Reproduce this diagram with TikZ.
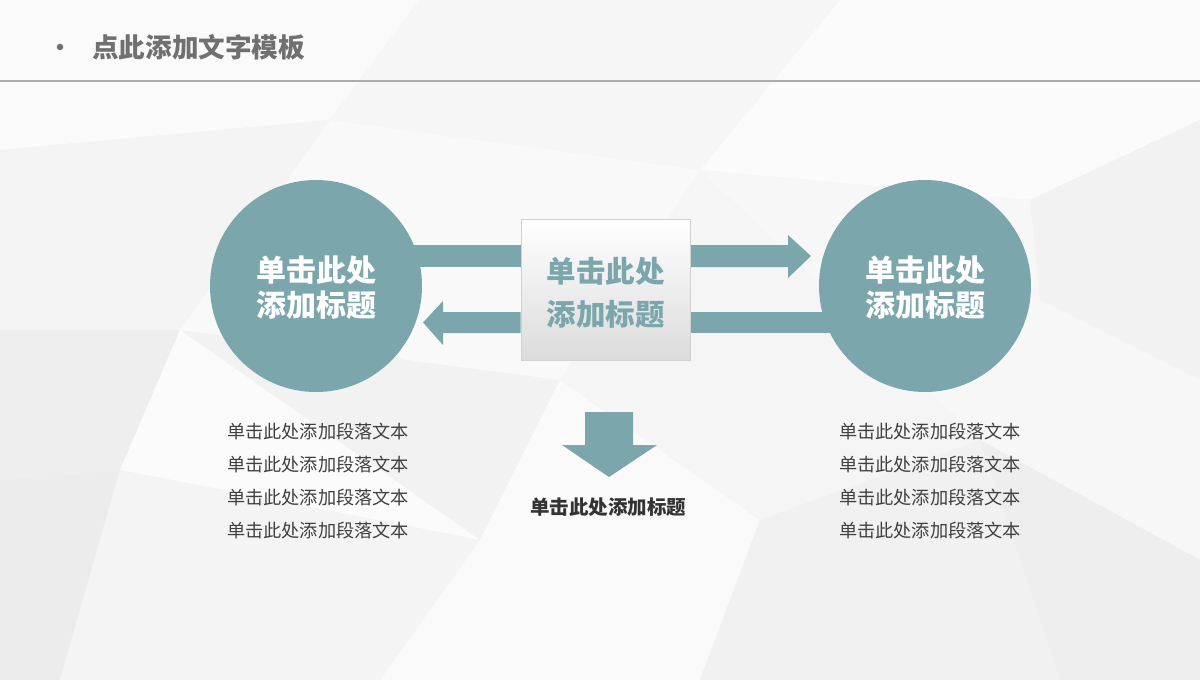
\documentclass[tikz,border=0pt]{standalone}
\usepackage{fontspec}
\setmainfont{Noto Sans CJK SC}
\usetikzlibrary{calc}
\definecolor{teal1}{RGB}{122,166,172}
\definecolor{titlegray}{RGB}{112,112,112}
\definecolor{txtdark}{RGB}{64,64,64}
\definecolor{bg0}{RGB}{242,242,242}
\tikzset{
  poly/.style={fill=#1, draw=none},
  circ/.style={circle, fill=teal1, minimum size=212pt, inner sep=0pt},
  circtext/.style={text=white, font=\fontsize{30}{35}\selectfont\bfseries, align=center},
  cbox/.style={rectangle, minimum width=169pt, minimum height=141pt, top color=white, bottom color=gray!28, draw=gray!35, line width=0.6pt},
  boxtext/.style={text=teal1, font=\fontsize{29.5}{43}\selectfont\bfseries, align=center},
  para/.style={text=txtdark, font=\fontsize{18.2}{33}\selectfont, align=center, inner sep=0pt},
  blk/.style={fill=teal1, draw=none}
}
\begin{document}
\begin{tikzpicture}[x=1pt,y=-1pt]
\useasboundingbox (0,0) rectangle (1200,680);
% background low-poly
\fill[bg0] (0,0) rectangle (1200,680);
\fill[poly=gray!4] (0,0) -- (420,0) -- (330,120) -- (0,150) -- cycle;
\fill[poly=gray!7] (420,0) -- (840,0) -- (700,170) -- (330,120) -- cycle;
\fill[poly=gray!3] (840,0) -- (1200,0) -- (1200,120) -- (1030,200) -- (700,170) -- cycle;
\fill[poly=gray!9] (0,150) -- (330,120) -- (180,330) -- (0,330) -- cycle;
\fill[poly=gray!5] (330,120) -- (700,170) -- (560,380) -- (180,330) -- cycle;
\fill[poly=gray!10] (1200,120) -- (1200,380) -- (1040,300) -- (1030,200) -- cycle;
\fill[poly=gray!6] (1030,200) -- (1040,300) -- (980,440) -- (700,170) -- cycle;
\fill[poly=gray!13] (0,330) -- (180,330) -- (120,470) -- (0,480) -- cycle;
\fill[poly=gray!15] (0,480) -- (120,470) -- (60,680) -- (0,680) -- cycle;
\fill[poly=gray!3] (180,330) -- (480,540) -- (120,470) -- cycle;
\fill[poly=gray!9] (120,470) -- (480,540) -- (380,680) -- (60,680) -- cycle;
\fill[poly=gray!4] (480,540) -- (560,380) -- (760,520) -- (700,680) -- (380,680) -- cycle;
\fill[poly=gray!8] (560,380) -- (700,170) -- (980,440) -- (760,520) -- cycle;
\fill[poly=gray!11] (760,520) -- (980,440) -- (1060,680) -- (700,680) -- cycle;
\fill[poly=gray!6] (980,440) -- (1040,300) -- (1200,380) -- (1200,560) -- cycle;
\fill[poly=gray!13] (980,440) -- (1200,560) -- (1200,680) -- (1060,680) -- cycle;
% title
\node[circle, fill=titlegray, inner sep=0pt, minimum size=6.5pt] (bul) at (60,47) {};
\node[text=titlegray, font=\fontsize{26.6}{30}\selectfont\bfseries, anchor=west, inner sep=0pt] (title) at (92,47) {点此添加文字模板};
\coordinate (hl) at (0,81);
\coordinate (hr) at (1200,81);
\draw[gray!65, line width=1.6pt] (hl) -- (hr);
% main nodes
\coordinate (lcc) at (316,286);
\coordinate (rcc) at (925,286);
\coordinate (bc) at (605.5,289.5);
% shafts (behind)
\path (bc) node[cbox, draw=none, shading=axis, top color=white, bottom color=white, opacity=0] (box) {};
\fill[blk] (lcc |- 0,245) rectangle (box.west |- 0,267);
\fill[blk] (box.east |- 0,312) rectangle (rcc |- 0,333);
% right arrow top
\fill[blk] (box.east |- 0,245) -- (788,245) -- (788,235) -- (811,256) -- (788,278) -- (788,267) -- (box.east |- 0,267) -- cycle;
% left arrow bottom
\fill[blk] (box.west |- 0,312) -- (443,312) -- (443,301) -- (423,322.5) -- (443,345) -- (443,333) -- (box.west |- 0,333) -- cycle;
% circles and box
\node[circ] (lc) at (lcc) {};
\node[circ] (rc) at (rcc) {};
\node[circtext] (lct) at ([yshift=-1.5pt]lc.center) {单击此处\\添加标题};
\node[circtext] (rct) at ([yshift=-1.5pt]rc.center) {单击此处\\添加标题};
\node[cbox] (box2) at (bc) {};
\node[boxtext] (boxt) at ([yshift=-3pt]box2.center) {单击此处\\添加标题};
% down arrow
\coordinate (dtop) at (609,412);
\fill[blk] (585,412) -- (633,412) -- (633,445) -- (657,445) -- (609,477) -- (562,445) -- (585,445) -- cycle;
\node[text=txtdark!80!black, font=\fontsize{19.5}{24}\selectfont\bfseries] (sub) at (608,507) {单击此处添加标题};
% paragraphs
\node[para] (lp) at (318,481.5) {单击此处添加段落文本\\单击此处添加段落文本\\单击此处添加段落文本\\单击此处添加段落文本};
\node[para] (rp) at (930,481.5) {单击此处添加段落文本\\单击此处添加段落文本\\单击此处添加段落文本\\单击此处添加段落文本};
\end{tikzpicture}
\end{document}
